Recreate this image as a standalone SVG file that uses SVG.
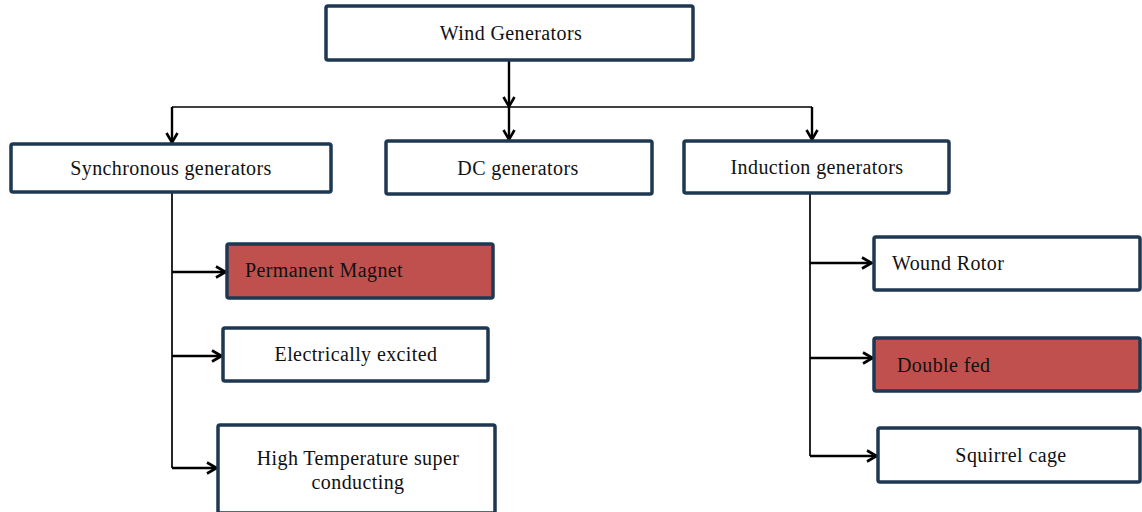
<svg xmlns="http://www.w3.org/2000/svg" width="1142" height="512" viewBox="0 0 1142 512">
  <style>
    .box { fill: #ffffff; stroke: #1f3852; stroke-width: 3.5; }
    .hot { fill: #c0504d; }
    .lbl { font-family: "Liberation Serif", "Times New Roman", serif; font-size: 20px; letter-spacing: 0.4px; fill: #111111; }
    .mid { text-anchor: middle; }
    .wire { fill: none; stroke: #000000; stroke-width: 1.7; }
    .feed { fill: none; stroke: #000000; stroke-width: 2.4; marker-end: url(#vee); }
  </style>
  <defs>
    <marker id="vee" viewBox="0 0 12 14" refX="11" refY="7" markerWidth="12" markerHeight="14" markerUnits="userSpaceOnUse" orient="auto">
      <path d="M1,1.5 L10.5,7 L1,12.5" fill="none" stroke="#000000" stroke-width="2.6"/>
    </marker>
  </defs>

  <rect width="1142" height="512" fill="#ffffff"/>

  <!-- connectors -->
  <g id="connectors">
    <path class="wire" d="M172,107 H812"/>
    <path class="feed" d="M509,60 V107"/>
    <path class="feed" d="M509,107 V140"/>
    <path class="feed" d="M172,107 V143"/>
    <path class="feed" d="M812,107 V140"/>
    <path class="wire" d="M172,192 V468"/>
    <path class="feed" d="M172,272 H226"/>
    <path class="feed" d="M172,356 H222"/>
    <path class="feed" d="M172,468 H217"/>
    <path class="wire" d="M810,193 V456"/>
    <path class="feed" d="M810,263 H872"/>
    <path class="feed" d="M810,358 H873"/>
    <path class="feed" d="M810,456 H877"/>
  </g>

  <g id="wind-generators">
    <rect class="box" x="326" y="6" width="367" height="54" rx="2"/>
    <text class="lbl mid" x="511" y="40">Wind Generators</text>
  </g>
  <g id="synchronous-generators">
    <rect class="box" x="11" y="144" width="320" height="48" rx="2"/>
    <text class="lbl mid" x="171" y="175">Synchronous generators</text>
  </g>
  <g id="dc-generators">
    <rect class="box" x="386" y="141" width="266" height="53" rx="2"/>
    <text class="lbl mid" x="518" y="175">DC generators</text>
  </g>
  <g id="induction-generators">
    <rect class="box" x="684" y="141" width="265" height="52" rx="2"/>
    <text class="lbl mid" x="817" y="174">Induction generators</text>
  </g>
  <g id="permanent-magnet">
    <rect class="box hot" x="227" y="244" width="266" height="54" rx="2"/>
    <text class="lbl" x="245" y="277">Permanent Magnet</text>
  </g>
  <g id="electrically-excited">
    <rect class="box" x="223" y="328" width="265" height="53" rx="2"/>
    <text class="lbl mid" x="356" y="361">Electrically excited</text>
  </g>
  <g id="high-temperature">
    <rect class="box" x="218" y="425" width="277" height="88" rx="2"/>
    <text class="lbl mid" x="358" y="465">High Temperature super</text>
    <text class="lbl mid" x="358" y="489">conducting</text>
  </g>
  <g id="wound-rotor">
    <rect class="box" x="874" y="237" width="266" height="53" rx="2"/>
    <text class="lbl" x="892" y="270">Wound Rotor</text>
  </g>
  <g id="double-fed">
    <rect class="box hot" x="874" y="338" width="266" height="53" rx="2"/>
    <text class="lbl" x="897" y="372">Double fed</text>
  </g>
  <g id="squirrel-cage">
    <rect class="box" x="878" y="428" width="262" height="54" rx="2"/>
    <text class="lbl mid" x="1011" y="462">Squirrel cage</text>
  </g>
</svg>
